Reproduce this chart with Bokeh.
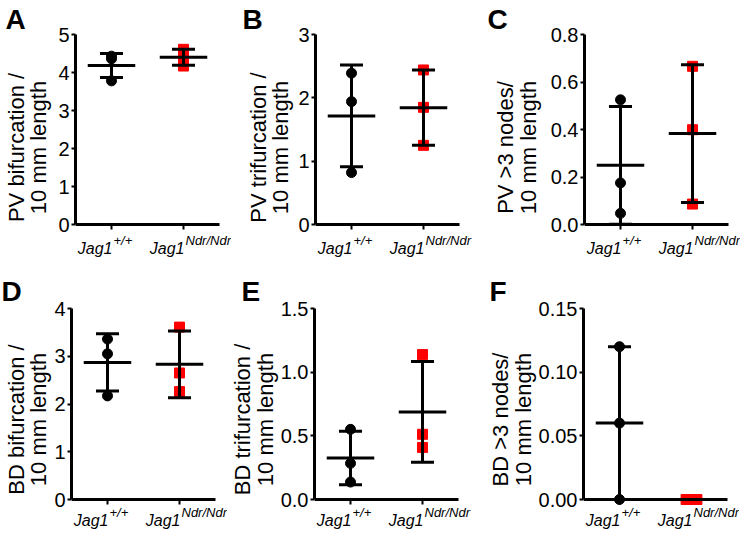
from bokeh.plotting import figure
from bokeh.models import Range1d, FixedTicker, PrintfTickFormatter, Label
from bokeh.layouts import row, column
from bokeh.embed import file_html
from bokeh.resources import INLINE

# ---------------- data ----------------
group_names = ["Jag1", "Jag1"]
group_sups = ["+/+", "Ndr/Ndr"]

letters = ["A", "B", "C", "D", "E", "F"]
ylabels = ["PV bifurcation /\n10 mm length", "PV trifurcation /\n10 mm length",
           "PV >3 nodes/\n10 mm length", "BD bifurcation /\n10 mm length",
           "BD trifurcation /\n10 mm length", "BD >3 nodes/\n10 mm length"]

y_max = [5, 3, 0.8, 4, 1.5, 0.15]
y_ticks = [[0, 1, 2, 3, 4, 5], [0, 1, 2, 3], [0, 0.2, 0.4, 0.6, 0.8],
           [0, 1, 2, 3, 4], [0, 0.5, 1.0, 1.5], [0, 0.05, 0.10, 0.15]]
y_formats = ["%d", "%d", "%.1f", "%d", "%.1f", "%.2f"]

wt_values = [
    [4.43, 4.36, 3.78],
    [2.39, 1.94, 0.82],
    [0.525, 0.175, 0.047],
    [3.36, 3.05, 2.17],
    [0.551, 0.284, 0.137],
    [0.12, 0.06, 0.0],
]
ndr_values = [
    [4.61, 4.38, 4.17],
    [2.44, 1.85, 1.25],
    [0.666, 0.399, 0.086],
    [3.61, 2.65, 2.26],
    [1.138, 0.512, 0.409],
    [0.0, 0.0, 0.0],
]
means = [
    [4.185, 4.40],
    [1.715, 1.845],
    [0.249, 0.383],
    [2.87, 2.83],
    [0.326, 0.688],
    [0.06, 0.0],
]
sds = [
    [0.315, 0.21],
    [0.805, 0.595],
    [0.248, 0.290],
    [0.60, 0.70],
    [0.21, 0.396],
    [0.06, 0.0],
]

# ---------------- layout / style ----------------
FONT = "Liberation Sans"
RED = "#FF0000"
col_start = [8, 235, 489]
col_end = [235, 489, 744]
frame_left = [79, 319, 588]
AXIS_PX = 144              # pixel length of the x axis (2 category units)
row_start = [8, 268]
row_end = [268, 538]
top_y = [42, 316]
zero_y = [232, 507]
label_standoff = [4, 2, 7, 0, 0, 0]
letter_x = [9, 246, 491, 9, 246, 494]
title_standoff = [0, 3]
xlab_drop = [24, 21]

cats = [0, 1]


def spread(vals, step=0.075):
    # horizontal spreading of identical values (as scatter-dot plots do)
    xs = []
    for i, v in enumerate(vals):
        same = [j for j, w in enumerate(vals) if w == v]
        xs.append((same.index(i) - (len(same) - 1) / 2) * step)
    return xs


plots = []
for i in range(6):
    r, c = divmod(i, 3)
    ymax = y_max[i]
    upp = ymax / (zero_y[r] - top_y[r])      # data units per pixel (y)
    xupp = 2.0 / AXIS_PX                      # data units per pixel (x)
    fw = col_end[c] - frame_left[c]
    fh = row_end[r] - top_y[r]
    bl = frame_left[c] - col_start[c]
    bt = top_y[r] - row_start[r]

    p = figure(frame_width=fw, frame_height=fh,
               x_range=Range1d(-0.5, -0.5 + fw * xupp),
               y_range=Range1d(ymax - fh * upp, ymax),
               x_axis_location=None, output_backend="svg", toolbar_location=None,
               min_border_left=bl, min_border_right=0,
               min_border_top=bt, min_border_bottom=0)
    p.outline_line_color = None
    p.grid.visible = False
    p.background_fill_color = "white"
    p.border_fill_color = "white"

    # panel letter
    p.title.text = letters[i]
    p.title.align = "left"
    p.title.offset = letter_x[i] - frame_left[c]
    p.title.text_font = FONT
    p.title.text_font_style = "bold"
    p.title.text_font_size = "28px"
    p.title.text_color = "black"
    p.title.standoff = title_standoff[r]
    p.title.vertical_align = "bottom"

    yax = p.yaxis[0]
    yax.bounds = (0, ymax)
    yax.ticker = FixedTicker(ticks=y_ticks[i], minor_ticks=[])
    yax.formatter = PrintfTickFormatter(format=y_formats[i])
    yax.axis_line_width = 3
    yax.axis_line_color = "black"
    yax.major_tick_line_width = 2
    yax.major_tick_line_color = "black"
    yax.major_tick_out = 4
    yax.major_tick_in = 0
    yax.minor_tick_out = 0
    yax.minor_tick_in = 0
    yax.major_label_text_font = FONT
    yax.major_label_text_font_size = "20px"
    yax.major_label_text_color = "black"
    yax.major_label_standoff = 2
    yax.axis_label = ylabels[i]
    yax.axis_label_text_font = FONT
    yax.axis_label_text_font_size = "22px"
    yax.axis_label_text_font_style = "normal"
    yax.axis_label_text_color = "black"
    yax.axis_label_text_line_height = 0.9
    yax.axis_label_standoff = label_standoff[i]

    # x axis line and ticks
    p.segment(x0=[-0.5], y0=[0], x1=[1.5], y1=[0], line_width=3, line_color="black")
    p.segment(x0=cats, y0=[0, 0], x1=cats, y1=[-5 * upp] * 2, line_width=2, line_color="black")

    # points
    wt = wt_values[i]
    nd = ndr_values[i]
    p.scatter(x=[cats[0] + d for d in spread(wt)], y=wt, marker="circle", size=10,
              fill_color="black", line_color="black")
    p.scatter(x=[cats[1] + d for d in spread(nd)], y=nd, marker="square", size=10,
              fill_color=RED, line_color=RED)

    # mean +/- SD
    m = means[i]
    s = sds[i]
    lo = [mm - ss for mm, ss in zip(m, s)]
    hi = [mm + ss for mm, ss in zip(m, s)]
    p.segment(x0=[x - 0.33 for x in cats], x1=[x + 0.33 for x in cats], y0=m, y1=m,
              line_width=3, line_color="black")
    p.segment(x0=cats, x1=cats, y0=lo, y1=hi, line_width=3, line_color="black")
    p.segment(x0=[x - 0.16 for x in cats], x1=[x + 0.16 for x in cats], y0=hi, y1=hi,
              line_width=3, line_color="black")
    p.segment(x0=[x - 0.16 for x in cats], x1=[x + 0.16 for x in cats], y0=lo, y1=lo,
              line_width=3, line_color="black")

    # x category labels (inside the frame, below the hand-drawn axis)
    for k, cx in enumerate(cats):
        p.add_layout(Label(x=cx, y=0, text=group_names[k], text_align="right",
                           text_baseline="alphabetic", x_offset=1, y_offset=-xlab_drop[r],
                           text_font=FONT, text_font_style="italic",
                           text_font_size="16px", text_color="black"))
        p.add_layout(Label(x=cx, y=0, text=group_sups[k], text_align="left",
                           text_baseline="alphabetic", x_offset=2, y_offset=-xlab_drop[r] + 8,
                           text_font=FONT, text_font_style="italic",
                           text_font_size="13px", text_color="black"))
    plots.append(p)

layout = column(row(*plots[:3]), row(*plots[3:]))
open("out.html", "w").write(file_html(layout, INLINE))
